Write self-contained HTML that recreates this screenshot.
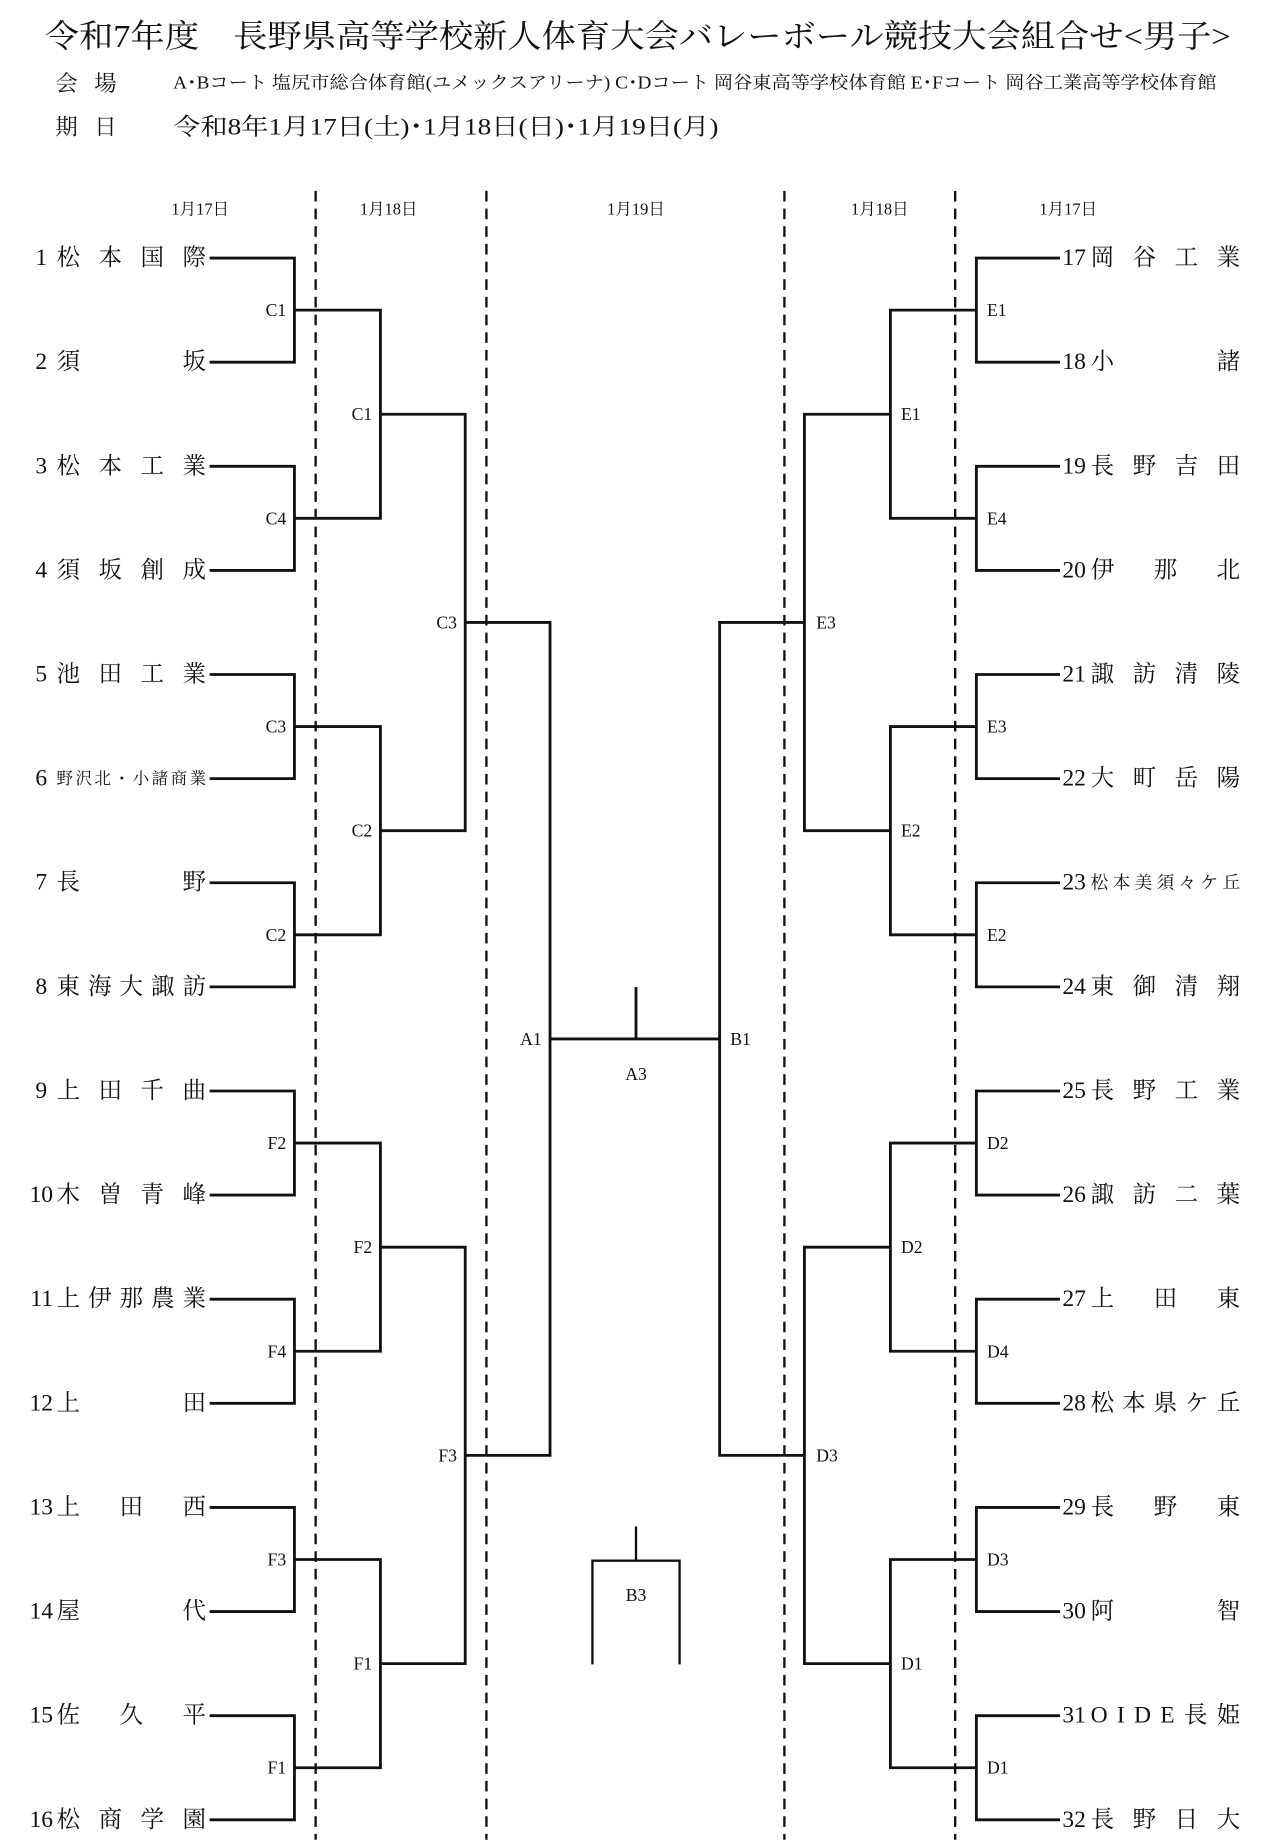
<!DOCTYPE html>
<html><head><meta charset="utf-8"><style>html,body{margin:0;padding:0;background:#fff}svg{display:block}</style></head><body>
<svg width="1272" height="1847" viewBox="0 0 1080 1568" xmlns="http://www.w3.org/2000/svg" font-family="'Liberation Serif','Noto Serif CJK SC',serif" fill="#111">
<text x="38" y="40" font-size="27" textLength="1007" lengthAdjust="spacingAndGlyphs">令和7年度　長野県高等学校新人体育大会バレーボール競技大会組合せ&lt;男子&gt;</text>
<text x="47" y="77" font-size="19">会</text><text x="80" y="77" font-size="19">場</text>
<text x="147" y="75" font-size="15" textLength="886" lengthAdjust="spacingAndGlyphs">A･Bコート 塩尻市総合体育館(ユメックスアリーナ) C･Dコート 岡谷東高等学校体育館 E･Fコート 岡谷工業高等学校体育館</text>
<text x="47" y="114" font-size="19">期</text><text x="80" y="114" font-size="19">日</text>
<text x="147" y="114" font-size="20" textLength="463" lengthAdjust="spacingAndGlyphs">令和8年1月17日(土)･1月18日(日)･1月19日(月)</text>
<g font-size="14" text-anchor="middle"><text x="170" y="182">1月17日</text><text x="330" y="182">1月18日</text><text x="540" y="182">1月19日</text><text x="747" y="182">1月18日</text><text x="907" y="182">1月17日</text></g>
<g stroke="#111" stroke-width="2" stroke-dasharray="9,6"><path d="M268 162V1562M413 162V1562M666 162V1562M811 162V1562"/></g>
<g stroke="#111" stroke-width="2.4" fill="none">
<path d="M178 219H250V307.4H178M178 395.8H250V484.2H178M178 572.6H250V661H178M178 749.4H250V837.8H178M178 926.2H250V1014.6H178M178 1103H250V1191.4H178M178 1279.8H250V1368.2H178M178 1456.6H250V1545H178"/>
<path d="M250 263.2H323V440H250M250 616.8H323V793.6H250M250 970.4H323V1147.2H250M250 1324H323V1500.8H250"/>
<path d="M323 351.6H395V705.2H323M323 1058.8H395V1412.4H323M395 528.4H467V1235.6H395M467 882H611M540 838V882"/>
<path d="M900 219H829V307.4H900M900 395.8H829V484.2H900M900 572.6H829V661H900M900 749.4H829V837.8H900M900 926.2H829V1014.6H900M900 1103H829V1191.4H900M900 1279.8H829V1368.2H900M900 1456.6H829V1545H900"/>
<path d="M829 263.2H756V440H829M829 616.8H756V793.6H829M829 970.4H756V1147.2H829M829 1324H756V1500.8H829"/>
<path d="M756 351.6H683V705.2H756M756 1058.8H683V1412.4H756M683 528.4H611V1235.6H683"/>
<path stroke-width="2" d="M540 1296V1325M503 1413V1325H577V1413"/>
</g>
<g font-size="15" dominant-baseline="central">
<g text-anchor="end"><text x="243" y="263.2">C1</text><text x="243" y="440">C4</text><text x="243" y="616.8">C3</text><text x="243" y="793.6">C2</text><text x="243" y="970.4">F2</text><text x="243" y="1147.2">F4</text><text x="243" y="1324">F3</text><text x="243" y="1500.8">F1</text>
<text x="316" y="351.6">C1</text><text x="316" y="705.2">C2</text><text x="316" y="1058.8">F2</text><text x="316" y="1412.4">F1</text>
<text x="388" y="528.4">C3</text><text x="388" y="1235.6">F3</text><text x="460" y="882">A1</text></g>
<g><text x="838" y="263.2">E1</text><text x="838" y="440">E4</text><text x="838" y="616.8">E3</text><text x="838" y="793.6">E2</text><text x="838" y="970.4">D2</text><text x="838" y="1147.2">D4</text><text x="838" y="1324">D3</text><text x="838" y="1500.8">D1</text>
<text x="765" y="351.6">E1</text><text x="765" y="705.2">E2</text><text x="765" y="1058.8">D2</text><text x="765" y="1412.4">D1</text>
<text x="693" y="528.4">E3</text><text x="693" y="1235.6">D3</text><text x="620" y="882">B1</text></g>
<g text-anchor="middle"><text x="540" y="912">A3</text><text x="540" y="1354">B3</text></g>
</g>
<g font-size="20" dominant-baseline="central">
<g text-anchor="end"><text x="40" y="219">1</text><text x="40" y="307.4">2</text><text x="40" y="395.8">3</text><text x="40" y="484.2">4</text><text x="40" y="572.6">5</text><text x="40" y="661">6</text><text x="40" y="749.4">7</text><text x="40" y="837.8">8</text><text x="40" y="926.2">9</text><text x="45" y="1014.6">10</text><text x="45" y="1103">11</text><text x="45" y="1191.4">12</text><text x="45" y="1279.8">13</text><text x="45" y="1368.2">14</text><text x="45" y="1456.6">15</text><text x="45" y="1545">16</text></g>
<text x="48" y="219" textLength="127" lengthAdjust="spacing">松本国際</text>
<text x="48" y="307.4">須</text><text x="175" y="307.4" text-anchor="end">坂</text>
<text x="48" y="395.8" textLength="127" lengthAdjust="spacing">松本工業</text>
<text x="48" y="484.2" textLength="127" lengthAdjust="spacing">須坂創成</text>
<text x="48" y="572.6" textLength="127" lengthAdjust="spacing">池田工業</text>
<text x="48" y="661" font-size="14" textLength="127" lengthAdjust="spacing">野沢北・小諸商業</text>
<text x="48" y="749.4">長</text><text x="175" y="749.4" text-anchor="end">野</text>
<text x="48" y="837.8" textLength="127" lengthAdjust="spacing">東海大諏訪</text>
<text x="48" y="926.2" textLength="127" lengthAdjust="spacing">上田千曲</text>
<text x="48" y="1014.6" textLength="127" lengthAdjust="spacing">木曽青峰</text>
<text x="48" y="1103" textLength="127" lengthAdjust="spacing">上伊那農業</text>
<text x="48" y="1191.4">上</text><text x="175" y="1191.4" text-anchor="end">田</text>
<text x="48" y="1279.8" textLength="127" lengthAdjust="spacing">上田西</text>
<text x="48" y="1368.2">屋</text><text x="175" y="1368.2" text-anchor="end">代</text>
<text x="48" y="1456.6" textLength="127" lengthAdjust="spacing">佐久平</text>
<text x="48" y="1545" textLength="127" lengthAdjust="spacing">松商学園</text>
<g><text x="902" y="219">17</text><text x="902" y="307.4">18</text><text x="902" y="395.8">19</text><text x="902" y="484.2">20</text><text x="902" y="572.6">21</text><text x="902" y="661">22</text><text x="902" y="749.4">23</text><text x="902" y="837.8">24</text><text x="902" y="926.2">25</text><text x="902" y="1014.6">26</text><text x="902" y="1103">27</text><text x="902" y="1191.4">28</text><text x="902" y="1279.8">29</text><text x="902" y="1368.2">30</text><text x="902" y="1456.6">31</text><text x="902" y="1545">32</text></g>
<text x="926" y="219" textLength="127" lengthAdjust="spacing">岡谷工業</text>
<text x="926" y="307.4">小</text><text x="1053" y="307.4" text-anchor="end">諸</text>
<text x="926" y="395.8" textLength="127" lengthAdjust="spacing">長野吉田</text>
<text x="926" y="484.2" textLength="127" lengthAdjust="spacing">伊那北</text>
<text x="926" y="572.6" textLength="127" lengthAdjust="spacing">諏訪清陵</text>
<text x="926" y="661" textLength="127" lengthAdjust="spacing">大町岳陽</text>
<text x="926" y="749.4" font-size="15" textLength="127" lengthAdjust="spacing">松本美須々ケ丘</text>
<text x="926" y="837.8" textLength="127" lengthAdjust="spacing">東御清翔</text>
<text x="926" y="926.2" textLength="127" lengthAdjust="spacing">長野工業</text>
<text x="926" y="1014.6" textLength="127" lengthAdjust="spacing">諏訪二葉</text>
<text x="926" y="1103" textLength="127" lengthAdjust="spacing">上田東</text>
<text x="926" y="1191.4" textLength="127" lengthAdjust="spacing">松本県ケ丘</text>
<text x="926" y="1279.8" textLength="127" lengthAdjust="spacing">長野東</text>
<text x="926" y="1368.2">阿</text><text x="1053" y="1368.2" text-anchor="end">智</text>
<text x="926" y="1456.6" textLength="127" lengthAdjust="spacing">OIDE長姫</text>
<text x="926" y="1545" textLength="127" lengthAdjust="spacing">長野日大</text>
</g>
</svg>
</body></html>
